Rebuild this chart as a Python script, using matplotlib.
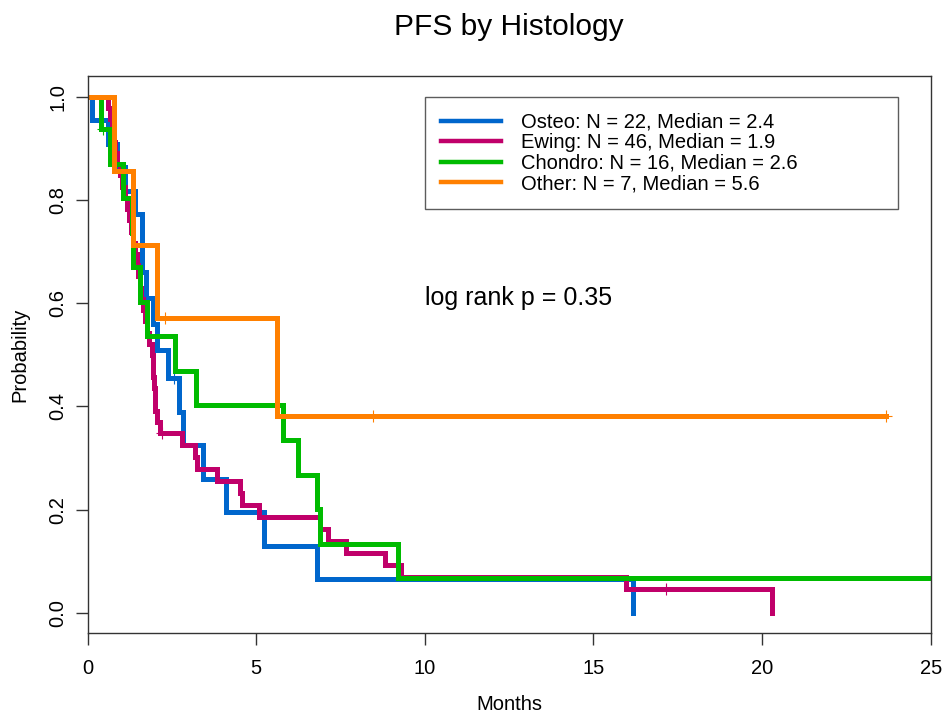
import matplotlib
matplotlib.use("Agg")
import matplotlib.pyplot as plt

plt.rcParams['font.family'] = ['Liberation Sans', 'DejaVu Sans']

# Kaplan-Meier step curves (time in months, survival after each step)
osteo_t = [0, 0.14, 0.61, 0.86, 1.11, 1.41, 1.62, 1.73, 1.94, 2.06, 2.39, 2.71, 2.84,
           3.42, 4.10, 5.24, 6.81, 16.17]
osteo_s = [1.0, 0.955, 0.909, 0.864, 0.818, 0.773, 0.66, 0.61, 0.56, 0.51, 0.455, 0.39,
           0.325, 0.26, 0.195, 0.13, 0.065, 0.0]
osteo_cens_t = [2.55]
osteo_cens_s = [0.455]

ewing_t = [0, 0.62, 0.66, 0.72, 0.76, 0.82, 0.87, 0.95, 1.02, 1.10, 1.17, 1.23, 1.29,
           1.36, 1.41, 1.46, 1.50, 1.55, 1.60, 1.65, 1.71, 1.77, 1.83, 1.90, 1.93, 1.95,
           1.97, 1.99, 2.01, 2.06, 2.14, 2.79, 3.19, 3.24, 3.83, 4.52, 4.57, 5.09, 6.89,
           7.14, 7.65, 8.82, 9.28, 15.96, 20.29]
ewing_s = [1.0, 0.978, 0.957, 0.935, 0.913, 0.891, 0.870, 0.848, 0.826, 0.804, 0.783,
           0.761, 0.739, 0.717, 0.696, 0.674, 0.652, 0.630, 0.609, 0.587, 0.565, 0.543,
           0.522, 0.500, 0.478, 0.457, 0.435, 0.413, 0.391, 0.370, 0.348, 0.325, 0.302,
           0.278, 0.255, 0.232, 0.209, 0.186, 0.162, 0.139, 0.116, 0.093, 0.070, 0.046, 0.0]
ewing_cens_t = [2.20, 17.15]
ewing_cens_s = [0.348, 0.046]

chondro_t = [0, 0.41, 0.67, 1.05, 1.33, 1.36, 1.56, 1.76, 2.60, 3.22, 5.81, 6.25, 6.79,
             6.89, 9.21, 25.5]
chondro_s = [1.0, 0.938, 0.871, 0.804, 0.737, 0.670, 0.603, 0.536, 0.469, 0.402, 0.335,
             0.268, 0.201, 0.134, 0.067, 0.067]
chondro_cens_t = [0.45]
chondro_cens_s = [0.938]

other_t = [0, 0.79, 1.36, 2.07, 5.63, 23.67]
other_s = [1.0, 0.857, 0.714, 0.571, 0.381, 0.381]
other_cens_t = [2.30, 8.47, 23.67]
other_cens_s = [0.571, 0.381, 0.381]

labels = ["Osteo: N = 22, Median = 2.4",
          "Ewing: N = 46, Median = 1.9",
          "Chondro: N = 16, Median = 2.6",
          "Other: N = 7, Median = 5.6"]
colors = ["#0066CC", "#C0006A", "#00BB00", "#FF8000"]

curves = [(osteo_t, osteo_s, osteo_cens_t, osteo_cens_s),
          (ewing_t, ewing_s, ewing_cens_t, ewing_cens_s),
          (chondro_t, chondro_s, chondro_cens_t, chondro_cens_s),
          (other_t, other_s, other_cens_t, other_cens_s)]

fig = plt.figure(figsize=(9.43, 7.16), dpi=100)
ax = fig.add_axes([0.0928, 0.1154, 0.8942, 0.7779])

for (t, s, ct, cs), col, lab in zip(curves, colors, labels):
    ax.step(t, s, where='post', color=col, lw=3.6, label=lab, solid_joinstyle='miter')
    ax.plot(ct, cs, linestyle='none', marker='+', color=col, markersize=9, mew=0.8)

ax.set_xlim(0, 25)
ax.set_ylim(-0.04, 1.04)
ax.set_xticks([0, 5, 10, 15, 20, 25])
ax.set_yticks([0.0, 0.2, 0.4, 0.6, 0.8, 1.0])
ax.set_yticklabels(["0.0", "0.2", "0.4", "0.6", "0.8", "1.0"], rotation=90, va='center')
ax.tick_params(axis='both', length=8.5, width=1, color='#333333', labelsize=14.5)
ax.tick_params(axis='x', pad=10)
ax.tick_params(axis='y', pad=6)
for sp in ax.spines.values():
    sp.set_color('#333333')
    sp.set_linewidth(1)

ax.set_xlabel("Months", fontsize=14.5, labelpad=12)
ax.set_ylabel("Probability", fontsize=14.5, labelpad=14)
ax.set_title("PFS by Histology", fontsize=21.5, pad=30)

ax.text(10.0, 0.61, "log rank p = 0.35", fontsize=18, ha='left', va='center')

leg = ax.legend(loc='upper left', bbox_to_anchor=(0.400, 0.963, 0.561, 0.0), mode='expand',
                fontsize=14.5, handlelength=3.0, handletextpad=1.0, borderpad=0.78,
                labelspacing=0.08, frameon=True, fancybox=False, borderaxespad=0)
leg.get_frame().set_edgecolor('#333333')
leg.get_frame().set_linewidth(1)
for h in leg.get_lines():
    h.set_linewidth(3.2)

fig.savefig("out.png", dpi=100)
